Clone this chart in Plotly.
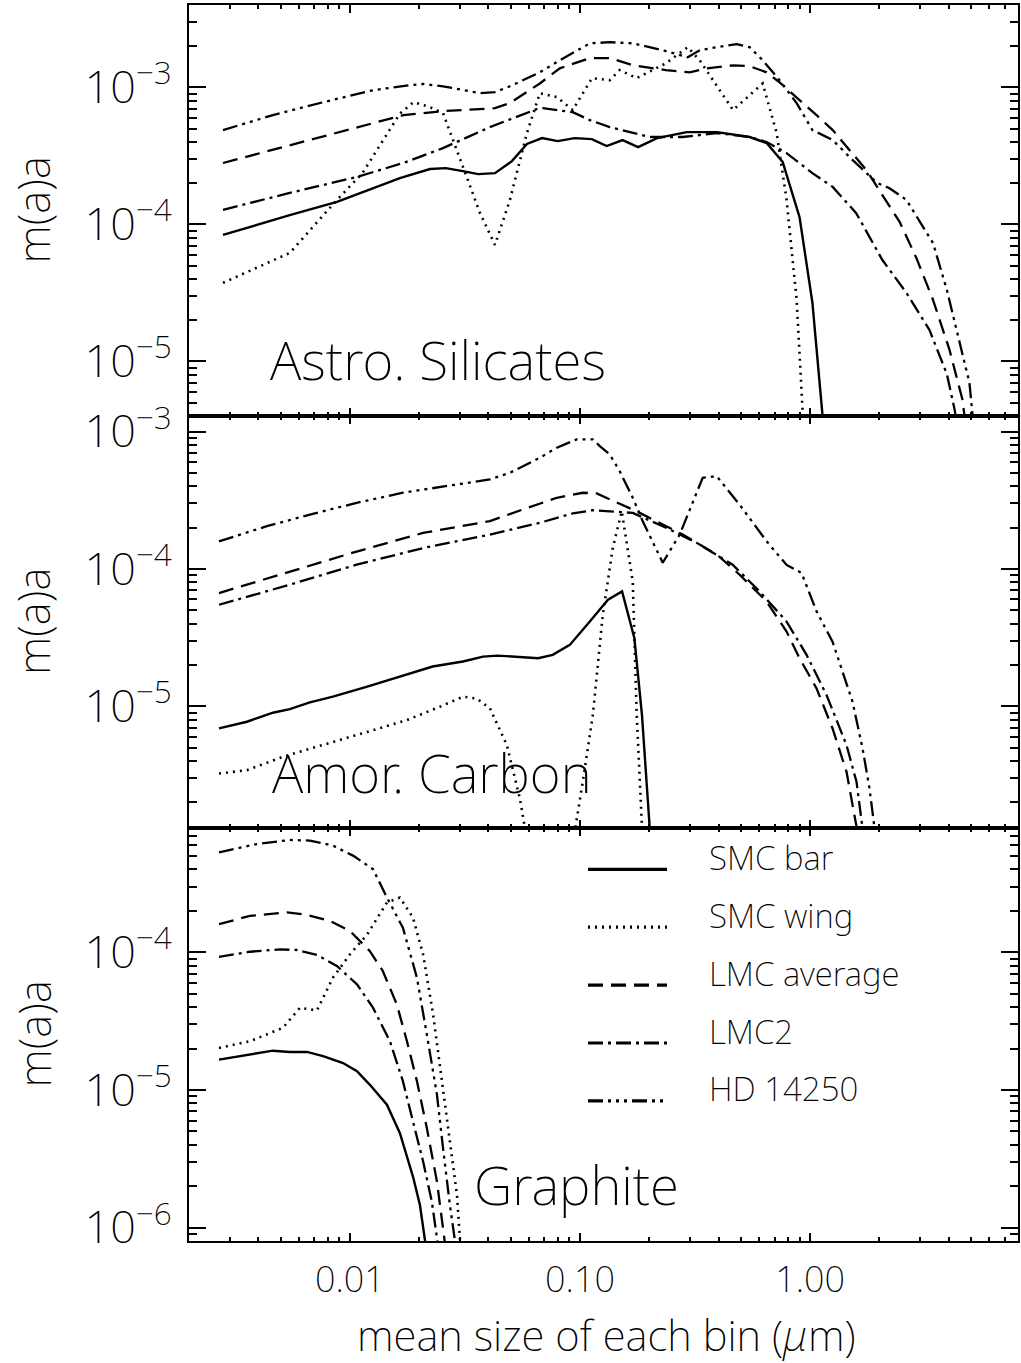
import math
import plotly.graph_objects as go

# ---------------- data: grain size a (micron) and m(a)a ----------------
# Panel 1: Astro. Silicates
sil_smcbar_a = [0.00281, 0.00548, 0.00879, 0.0165, 0.0223, 0.0261, 0.0310, 0.0361, 0.0427, 0.0506, 0.0588, 0.0684, 0.0800, 0.0947, 0.1125, 0.1306, 0.1531, 0.1788, 0.2163, 0.2907, 0.394, 0.5457, 0.6469, 0.7594, 0.8995, 1.023, 1.131, 1.17]
sil_smcbar_v = [8.39e-5, 1.17e-4, 1.46e-4, 2.18e-4, 2.54e-4, 2.58e-4, 2.45e-4, 2.33e-4, 2.37e-4, 2.9e-4, 3.87e-4, 4.27e-4, 4.06e-4, 4.27e-4, 4.2e-4, 3.74e-4, 4.13e-4, 3.67e-4, 4.27e-4, 4.72e-4, 4.72e-4, 4.35e-4, 3.93e-4, 2.86e-4, 1.13e-4, 2.68e-5, 4.1e-6, 1.5e-6]
sil_smcwing_a = [0.00281, 0.00548, 0.00879, 0.01134, 0.0165, 0.0189, 0.0223, 0.0254, 0.0322, 0.0367, 0.0427, 0.0496, 0.0588, 0.0669, 0.0793, 0.0930, 0.1128, 0.1347, 0.1488, 0.1763, 0.2358, 0.2938, 0.3311, 0.4625, 0.6218, 0.7155, 0.790, 0.8735, 0.929, 0.96]
sil_smcwing_v = [3.75e-5, 6.2e-5, 1.51e-4, 2.37e-4, 6.46e-4, 7.82e-4, 7.18e-4, 6.5e-4, 2.22e-4, 1.22e-4, 7.1e-5, 1.51e-4, 4.65e-4, 9.09e-4, 8.5e-4, 6.84e-4, 1.17e-3, 1.13e-3, 1.34e-3, 1.17e-3, 1.5e-3, 1.97e-3, 1.58e-3, 6.84e-4, 1.07e-3, 4.65e-4, 1.51e-4, 2.82e-5, 4.1e-6, 1.5e-6]
sil_lmcavg_a = [0.00281, 0.00692, 0.01705, 0.0254, 0.0427, 0.0496, 0.0669, 0.0817, 0.1103, 0.1347, 0.1702, 0.2358, 0.2996, 0.3546, 0.4625, 0.5457, 0.6469, 0.7365, 0.8735, 1.066, 1.253, 1.483, 1.758, 2.06, 2.444, 2.89, 3.418, 4.029, 4.59, 4.85]
sil_lmcavg_v = [2.81e-4, 4.2e-4, 6.28e-4, 6.72e-4, 7.06e-4, 7.69e-4, 1.07e-3, 1.38e-3, 1.64e-3, 1.64e-3, 1.45e-3, 1.34e-3, 1.29e-3, 1.38e-3, 1.45e-3, 1.43e-3, 1.29e-3, 1.09e-3, 8.5e-4, 6.28e-4, 4.89e-4, 3.49e-4, 2.49e-4, 1.64e-4, 1.05e-4, 5.73e-5, 2.82e-5, 1.22e-5, 5.26e-6, 2.5e-6]
sil_lmc2_a = [0.00281, 0.00548, 0.0107, 0.01705, 0.0254, 0.0406, 0.0648, 0.0688, 0.0930, 0.1103, 0.1347, 0.2009, 0.2791, 0.394, 0.5457, 0.6469, 0.790, 1.023, 1.253, 1.585, 2.06, 2.621, 3.299, 3.926, 4.25, 4.45]
sil_lmc2_v = [1.28e-4, 1.70e-4, 2.22e-4, 2.81e-4, 3.61e-4, 5.14e-4, 6.95e-4, 7.06e-4, 6.6e-4, 5.78e-4, 5.14e-4, 4.35e-4, 4.35e-4, 4.65e-4, 4.35e-4, 4.0e-4, 3.32e-4, 2.37e-4, 1.88e-4, 1.21e-4, 5.5e-5, 3.17e-5, 1.7e-5, 8.1e-6, 4.4e-6, 2.5e-6]
sil_hd_a = [0.00281, 0.00463, 0.00765, 0.0126, 0.0182, 0.0208, 0.0254, 0.0367, 0.0427, 0.0496, 0.0669, 0.0817, 0.1103, 0.1347, 0.1702, 0.2292, 0.2938, 0.3311, 0.394, 0.4795, 0.5457, 0.6218, 0.7365, 0.8735, 1.023, 1.253, 1.531, 1.954, 2.212, 2.621, 3.093, 3.418, 3.926, 4.452, 4.92, 5.17]
sil_hd_v = [4.89e-4, 6.28e-4, 7.8e-4, 9.55e-4, 1.04e-3, 1.06e-3, 1.02e-3, 9.09e-4, 9.24e-4, 1.02e-3, 1.29e-3, 1.58e-3, 2.1e-3, 2.14e-3, 2.1e-3, 1.87e-3, 1.66e-3, 1.87e-3, 1.97e-3, 2.07e-3, 1.97e-3, 1.58e-3, 1.13e-3, 7.69e-4, 4.89e-4, 4.13e-4, 2.95e-4, 2.01e-4, 1.84e-4, 1.51e-4, 9.6e-5, 7.33e-5, 3.33e-5, 1.37e-5, 7.0e-6, 3.0e-6]

# Panel 2: Amor. Carbon
car_smcbar_a = [0.0027, 0.00357, 0.00463, 0.00548, 0.0067, 0.00844, 0.0119, 0.0165, 0.0229, 0.0310, 0.0379, 0.0437, 0.0566, 0.0658, 0.0761, 0.0903, 0.1103, 0.1219, 0.1323, 0.1523, 0.1723, 0.1859, 0.203]
car_smcbar_v = [6.91e-6, 7.72e-6, 8.98e-6, 9.55e-6, 1.07e-5, 1.175e-5, 1.39e-5, 1.64e-5, 1.95e-5, 2.12e-5, 2.30e-5, 2.34e-5, 2.28e-5, 2.24e-5, 2.37e-5, 2.80e-5, 4.14e-5, 5.05e-5, 5.97e-5, 6.86e-5, 3.13e-5, 8.64e-6, 1.0e-6]
car_smcwing_a = [0.0027, 0.00357, 0.00512, 0.00765, 0.0119, 0.0177, 0.0246, 0.0310, 0.0356, 0.0406, 0.0481, 0.0548, 0.0592, 0.0930, 0.1028, 0.1137, 0.1256, 0.1347, 0.1388, 0.1518, 0.1695, 0.1764, 0.1873]
car_smcwing_v = [3.24e-6, 3.43e-6, 4.29e-6, 5.22e-6, 6.53e-6, 7.94e-6, 9.93e-6, 1.175e-5, 1.14e-5, 9.67e-6, 5.22e-6, 2.13e-6, 1.0e-6, 1.0e-6, 2.82e-6, 8.64e-6, 4.64e-5, 1.075e-4, 1.42e-4, 2.63e-4, 8.12e-5, 8.64e-6, 1.0e-6]
car_lmcavg_a = [0.0027, 0.00548, 0.0107, 0.0208, 0.0406, 0.0564, 0.0793, 0.1028, 0.1183, 0.1347, 0.1764, 0.2794, 0.394, 0.4938, 0.6468, 0.790, 0.8995, 1.066, 1.251, 1.439, 1.64]
car_lmcavg_v = [6.68e-5, 9.55e-5, 1.34e-4, 1.83e-4, 2.23e-4, 2.71e-4, 3.30e-4, 3.59e-4, 3.55e-4, 3.21e-4, 2.63e-4, 1.78e-4, 1.27e-4, 9.08e-5, 5.80e-5, 3.50e-5, 2.24e-5, 1.35e-5, 6.90e-6, 3.33e-6, 1.0e-6]
car_lmc2_a = [0.0027, 0.00548, 0.0107, 0.0208, 0.0406, 0.0669, 0.0930, 0.1137, 0.1347, 0.1695, 0.238, 0.3213, 0.4605, 0.6031, 0.790, 0.9647, 1.178, 1.439, 1.590, 1.723]
car_lmc2_v = [5.49e-5, 7.68e-5, 1.075e-4, 1.42e-4, 1.78e-4, 2.17e-4, 2.54e-4, 2.68e-4, 2.63e-4, 2.56e-4, 1.99e-4, 1.55e-4, 1.075e-4, 6.86e-5, 4.14e-5, 2.37e-5, 1.21e-5, 5.22e-6, 2.82e-6, 1.0e-6]
car_hd_a = [0.0027, 0.00436, 0.0069, 0.0107, 0.0170, 0.0292, 0.0406, 0.0496, 0.0669, 0.0793, 0.0968, 0.1137, 0.1219, 0.1347, 0.1488, 0.1695, 0.1873, 0.2288, 0.2711, 0.3412, 0.3925, 0.4938, 0.6468, 0.790, 0.9177, 1.066, 1.251, 1.528, 1.689, 1.811, 1.942]
car_hd_v = [1.59e-4, 2.05e-4, 2.52e-4, 3.03e-4, 3.59e-4, 4.12e-4, 4.49e-4, 5.02e-4, 6.46e-4, 7.64e-4, 8.79e-4, 8.79e-4, 7.85e-4, 6.83e-4, 5.15e-4, 3.30e-4, 2.23e-4, 1.11e-4, 1.78e-4, 4.61e-4, 4.74e-4, 2.94e-4, 1.59e-4, 1.07e-4, 9.35e-5, 4.91e-5, 2.96e-5, 1.08e-5, 4.94e-6, 2.52e-6, 1.0e-6]

# Panel 3: Graphite
gra_smcbar_a = [0.0027, 0.00357, 0.00463, 0.00548, 0.00651, 0.00765, 0.00934, 0.01074, 0.01222, 0.01449, 0.0165, 0.0188, 0.02016, 0.0212, 0.0218]
gra_smcbar_v = [1.66e-5, 1.79e-5, 1.93e-5, 1.89e-5, 1.89e-5, 1.76e-5, 1.57e-5, 1.37e-5, 1.09e-5, 7.82e-6, 4.86e-6, 2.35e-6, 1.46e-6, 8.1e-7, 6e-7]
gra_smcwing_a = [0.0027, 0.00368, 0.00512, 0.00607, 0.00719, 0.00844, 0.01001, 0.0119, 0.01449, 0.0165, 0.0188, 0.0208, 0.0230, 0.0251, 0.0272, 0.0292, 0.0301, 0.0307]
gra_smcwing_v = [2.02e-5, 2.26e-5, 2.83e-5, 3.96e-5, 3.78e-5, 6.54e-5, 9.67e-5, 1.35e-4, 2.30e-4, 2.50e-4, 1.79e-4, 9.67e-5, 3.54e-5, 1.16e-5, 4.0e-6, 1.73e-6, 8.1e-7, 6e-7]
gra_lmcavg_a = [0.0027, 0.00368, 0.00533, 0.00651, 0.00819, 0.01001, 0.01222, 0.0139, 0.0160, 0.0177, 0.01956, 0.0216, 0.0239, 0.0259, 0.0264]
gra_lmcavg_v = [1.60e-4, 1.84e-4, 1.95e-4, 1.87e-4, 1.69e-4, 1.43e-4, 1.02e-4, 7.32e-5, 4.18e-5, 2.26e-5, 1.16e-5, 5.29e-6, 2.16e-6, 8.1e-7, 6e-7]
gra_lmc2_a = [0.0027, 0.00368, 0.00497, 0.00588, 0.00719, 0.00878, 0.01074, 0.0126, 0.01493, 0.0170, 0.0188, 0.0208, 0.0227, 0.0241, 0.0246]
gra_lmc2_v = [9.26e-5, 1.01e-4, 1.05e-4, 1.04e-4, 9.57e-5, 7.96e-5, 5.85e-5, 3.96e-5, 2.26e-5, 1.16e-5, 5.91e-6, 3.03e-6, 1.55e-6, 8.1e-7, 6e-7]
gra_hd_a = [0.0027, 0.00395, 0.00548, 0.0067, 0.00844, 0.01032, 0.0126, 0.01449, 0.0170, 0.01956, 0.0216, 0.0239, 0.0254, 0.0272, 0.0286, 0.0293]
gra_hd_v = [5.33e-4, 6.12e-4, 6.55e-4, 6.48e-4, 5.96e-4, 5.04e-4, 4.02e-4, 2.50e-4, 1.51e-4, 6.54e-5, 2.53e-5, 9.25e-6, 3.78e-6, 1.46e-6, 8.1e-7, 6e-7]

series_names = ["SMC bar", "SMC wing", "LMC average", "LMC2", "HD 14250"]
panel_labels = ["Astro. Silicates", "Amor. Carbon", "Graphite"]
panels = [
    [(sil_smcbar_a, sil_smcbar_v), (sil_smcwing_a, sil_smcwing_v), (sil_lmcavg_a, sil_lmcavg_v), (sil_lmc2_a, sil_lmc2_v), (sil_hd_a, sil_hd_v)],
    [(car_smcbar_a, car_smcbar_v), (car_smcwing_a, car_smcwing_v), (car_lmcavg_a, car_lmcavg_v), (car_lmc2_a, car_lmc2_v), (car_hd_a, car_hd_v)],
    [(gra_smcbar_a, gra_smcbar_v), (gra_smcwing_a, gra_smcwing_v), (gra_lmcavg_a, gra_lmcavg_v), (gra_lmc2_a, gra_lmc2_v), (gra_hd_a, gra_hd_v)],
]
x_range = [0.002, 8.0]
y_ranges = [[4e-6, 4e-3], [1.3e-6, 1.3e-3], [8e-7, 8e-4]]
x_title = "mean size of each bin (<i>μ</i>m)"
y_title = "m(a)a"

# ---------------- styles ----------------
FAM = "Noto Sans"
WT = 200
TICKFONT = dict(family=FAM, size=36, color="black", weight=WT)
dashes = ["solid", "2px,5px", "15px,8px", "15px,5px,3px,5px", "15px,5px,3px,5px,3px,5px,3px,5px"]
widths = [2.4, 2.6, 2.3, 2.3, 2.3]

W, H = 1021, 1363
ML, MR, MT, MB = 189, 3, 5, 122
PW, PH = W - ML - MR, H - MT - MB


def pyp(py):  # pixel row -> paper y
    return (H - MB - py) / PH


def pxp(px):  # pixel column -> paper x
    return (px - ML) / PW


bounds = [MT, 416, 828, H - MB]
fig = go.Figure()

for i, series in enumerate(panels):
    k = "" if i == 0 else str(i + 1)
    for j, (a, v) in enumerate(series):
        fig.add_trace(go.Scatter(
            x=a, y=v, mode="lines", name=series_names[j], showlegend=False,
            xaxis="x" + k, yaxis="y" + k,
            line=dict(color="black", width=widths[j], dash=dashes[j]),
        ))
    dom = [pyp(bounds[i + 1]), pyp(bounds[i])]
    fig.layout["xaxis" + k] = dict(
        type="log", range=[math.log10(x_range[0]), math.log10(x_range[1])],
        domain=[0, 1], anchor="y" + k,
        showline=True, linecolor="black", linewidth=2, mirror="allticks",
        ticks="inside", ticklen=8, tickwidth=1.5, tickcolor="black",
        dtick=1, tickformat=".2f",
        minor=dict(ticks="inside", ticklen=4, tickwidth=1.5, tickcolor="black", dtick="D1", showgrid=False),
        showgrid=False, zeroline=False,
        showticklabels=(i == 2),
        tickfont=TICKFONT,
        ticklabelstandoff=6,
    )
    fig.layout["yaxis" + k] = dict(
        type="log", range=[math.log10(y_ranges[i][0]), math.log10(y_ranges[i][1])],
        domain=dom, anchor="x" + k,
        showline=True, linecolor="black", linewidth=2, mirror="allticks",
        ticks="inside", ticklen=17, tickwidth=1.5, tickcolor="black",
        dtick=1, exponentformat="power", showexponent="all",
        minor=dict(ticks="inside", ticklen=8, tickwidth=1.5, tickcolor="black", dtick="D1", showgrid=False),
        showgrid=False, zeroline=False,
        tickfont=TICKFONT,
        ticklabelstandoff=8,
    )
    # y title
    fig.add_annotation(
        x=pxp(33), y=(dom[0] + dom[1]) / 2, xref="paper", yref="paper",
        text=y_title, textangle=-90, showarrow=False, xanchor="center", yanchor="middle",
        font=dict(family=FAM, size=44, color="black", weight=WT),
    )

# panel labels
label_pos = [(268, 360), (270, 772), (472, 1184)]
for (px, py), txt in zip(label_pos, panel_labels):
    fig.add_annotation(
        x=pxp(px), y=pyp(py), xref="paper", yref="paper", text=txt, showarrow=False,
        xanchor="left", yanchor="middle",
        font=dict(family=FAM, size=53, color="black", weight=WT),
    )

# x title
fig.add_annotation(
    x=pxp(606), y=pyp(1334), xref="paper", yref="paper", text=x_title, showarrow=False,
    xanchor="center", yanchor="middle",
    font=dict(family=FAM, size=42, color="black", weight=WT),
)

# manual legend in graphite panel
row0, pitch = 869.3, 57.9
for j, name in enumerate(series_names):
    ly = row0 + j * pitch
    fig.add_shape(type="line", xref="paper", yref="paper",
                  x0=pxp(588), x1=pxp(667), y0=pyp(ly), y1=pyp(ly),
                  line=dict(color="black", width=3.2, dash=dashes[j]))
    fig.add_annotation(
        x=pxp(707), y=pyp(ly - 12), xref="paper", yref="paper", text=name, showarrow=False,
        xanchor="left", yanchor="middle",
        font=dict(family=FAM, size=33, color="black", weight=WT),
    )

fig.update_layout(
    width=W, height=H, margin=dict(l=ML, r=MR, t=MT, b=MB, autoexpand=False),
    paper_bgcolor="white", plot_bgcolor="white", showlegend=False,
    font=dict(family=FAM, color="black"),
)

fig.write_html("out.html")
